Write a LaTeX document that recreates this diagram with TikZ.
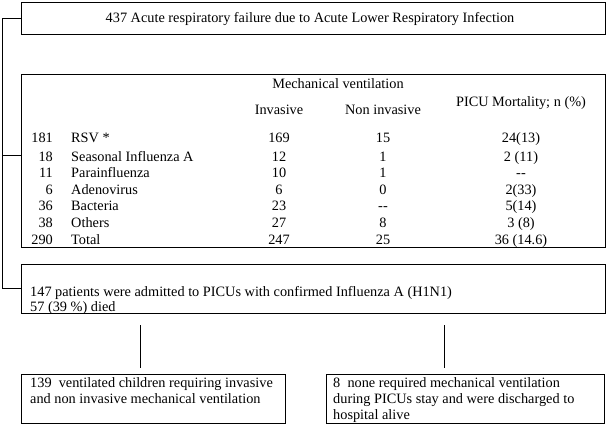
\documentclass[tikz,border=0pt]{standalone}
\usepackage{fontspec}
\setmainfont{Liberation Serif}
\begin{document}
\begin{tikzpicture}[x=1pt,y=-1pt,
  box/.style={draw,line width=0.8pt,rectangle,inner sep=0pt},
  txt/.style={inner sep=0pt,anchor=base,font=\fontsize{14.3}{16}\selectfont},
  ln/.style={line width=0.8pt}]
\useasboundingbox (0,0) rectangle (607,424);
% boxes
\node[box,minimum width=584pt,minimum height=32pt] (top) at (313,18) {};
\node[box,minimum width=584pt,minimum height=173pt] (tab) at (313,160.5) {};
\node[box,minimum width=584pt,minimum height=49pt] (adm) at (313,288.5) {};
\node[box,minimum width=264pt,minimum height=49pt] (bl) at (153,398.5) {};
\node[box,minimum width=278pt,minimum height=49pt] (br) at (465,398.5) {};
% bracket
\draw[ln] (top.west) -- ++(-18.5,0) coordinate (bk) |- (adm.west);
\draw[ln] (bk |- 0,155) -- (tab.west |- 0,155);
% vertical lines
\coordinate (v1a) at (140,325); \coordinate (v1b) at (140,368);
\coordinate (v2a) at (444,325); \coordinate (v2b) at (444,368);
\draw[ln] (v1a) -- (v1b);
\draw[ln] (v2a) -- (v2b);
% texts
\node[txt] (ttop) at (310,22.5) {437 Acute respiratory failure due to Acute Lower Respiratory Infection};
\node[txt] (hmv) at (338,88) {Mechanical ventilation};
\node[txt] (hinv) at (279,114) {Invasive};
\node[txt] (hnon) at (383,114) {Non invasive};
\node[txt] (hpicu) at (521,106) {PICU Mortality; n (\%)};
\foreach \n/\name/\inv/\non/\mort/\y [count=\i] in {
  181/RSV */169/15/24(13)/142,
  18/Seasonal Influenza A/12/1/2 (11)/161,
  11/Parainfluenza/10/1/{-}{-}/177,
  6/Adenovirus/6/0/2(33)/194,
  36/Bacteria/23/{-}{-}/5(14)/210,
  38/Others/27/8/3 (8)/227,
  290/Total/247/25/36 (14.6)/244}{
  \node[txt,anchor=base east] (n\i) at (53,\y) {\n};
  \node[txt,anchor=base west] (nm\i) at (71,\y) {\name};
  \node[txt] (iv\i) at (279,\y) {\inv};
  \node[txt] (ni\i) at (383,\y) {\non};
  \node[txt] (mo\i) at (521,\y) {\mort};
}
\node[txt,anchor=base west] (tadm1) at (30,296) {147 patients were admitted to PICUs with confirmed Influenza A (H1N1)};
\node[txt,anchor=base west] (tadm2) at (30,311) {57 (39 \%) died};
\node[txt,anchor=base west] (tbl1) at (30,387) {139\ \ ventilated children requiring invasive};
\node[txt,anchor=base west] (tbl2) at (30,403) {and non invasive mechanical ventilation};
\node[txt,anchor=base west] (tbr1) at (333,387) {8\ \ none required mechanical ventilation};
\node[txt,anchor=base west] (tbr2) at (333,403) {during PICUs stay and were discharged to};
\node[txt,anchor=base west] (tbr3) at (333,419) {hospital alive};
\end{tikzpicture}
\end{document}
